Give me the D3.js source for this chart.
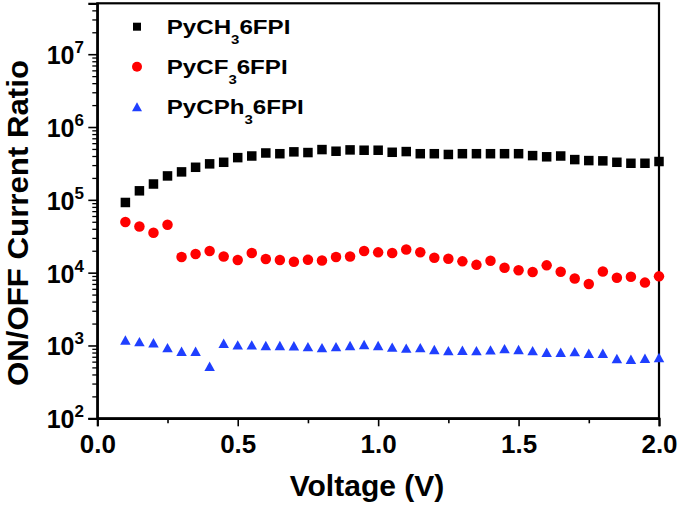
<!DOCTYPE html>
<html>
<head>
<meta charset="utf-8">
<script src="https://cdn.jsdelivr.net/npm/d3@7"></script>
<style>
  body { margin: 0; background: #fff; }
  svg { display: block; font-family: "Liberation Sans", Arial, sans-serif; font-weight: bold; }
  .axis path, .axis line { stroke: #000; }
</style>
</head>
<body>
<svg id="chart" width="681" height="509"></svg>
<script>
// voltage steps, 0.10 .. 2.00 V
const voltage = [0.10, 0.15, 0.20, 0.25, 0.30, 0.35, 0.40, 0.45, 0.50, 0.55,
                 0.60, 0.65, 0.70, 0.75, 0.80, 0.85, 0.90, 0.95, 1.00, 1.05,
                 1.10, 1.15, 1.20, 1.25, 1.30, 1.35, 1.40, 1.45, 1.50, 1.55,
                 1.60, 1.65, 1.70, 1.75, 1.80, 1.85, 1.90, 1.95, 2.00];

const pyCH3 = [9.2e4, 1.33e5, 1.65e5, 2.13e5, 2.42e5, 2.8e5, 3.12e5, 3.28e5, 3.8e5, 4.0e5,
               4.4e5, 4.3e5, 4.56e5, 4.46e5, 4.9e5, 4.65e5, 4.85e5, 4.8e5, 4.8e5, 4.5e5,
               4.6e5, 4.3e5, 4.3e5, 4.2e5, 4.3e5, 4.3e5, 4.3e5, 4.3e5, 4.3e5, 4.05e5,
               3.9e5, 4.0e5, 3.57e5, 3.46e5, 3.43e5, 3.28e5, 3.18e5, 3.18e5, 3.36e5];

const pyCF3 = [4.97e4, 4.3e4, 3.54e4, 4.56e4, 1.64e4, 1.8e4, 1.98e4, 1.67e4, 1.49e4, 1.86e4,
               1.54e4, 1.49e4, 1.41e4, 1.5e4, 1.47e4, 1.64e4, 1.67e4, 1.98e4, 1.9e4, 1.86e4,
               2.08e4, 1.91e4, 1.6e4, 1.55e4, 1.43e4, 1.28e4, 1.46e4, 1.17e4, 1.08e4, 1.02e4,
               1.26e4, 1.03e4, 8.3e3, 7.0e3, 1.04e4, 8.5e3, 8.8e3, 7.3e3, 8.9e3];

const pyCPh3 = [1190, 1130, 1090, 935, 835, 835, 519, 1070, 1020, 1020,
                1000, 1000, 990, 965, 935, 965, 1000, 1030, 1000, 950,
                920, 935, 880, 850, 860, 850, 870, 905, 880, 850,
                808, 808, 824, 783, 783, 661, 647, 668, 682];

const seriesNames = ["PyCH", "PyCF", "PyCPh"];
const xTicks = [0, 0.5, 1.0, 1.5, 2.0];
const xMinorTicks = [0.25, 0.75, 1.25, 1.75];
const yDecades = [1e2, 1e3, 1e4, 1e5, 1e6, 1e7];

const svg = d3.select('#chart');

// plot box
const box = { left: 97.3, right: 659, top: 3.3, bottom: 418.3 };

const x = d3.scaleLinear().domain([0, 2]).range([box.left, box.right]);
const y = d3.scaleLog().domain([1e2, 5e7]).range([box.bottom, box.top]);

// frame
svg.append('rect')
    .attr('x', box.left).attr('y', box.top)
    .attr('width', box.right - box.left).attr('height', box.bottom - box.top)
    .attr('fill', 'none').attr('stroke', '#000').attr('stroke-width', 2.2);

// x axis, major + minor ticks
const gx = svg.append('g').attr('class', 'axis')
    .attr('transform', `translate(0,${box.bottom})`)
    .call(d3.axisBottom(x).tickValues(xTicks).tickSize(8).tickPadding(8)
        .tickFormat(d3.format('.1f')));
gx.select('.domain').attr('stroke-width', 2.2);
gx.selectAll('line').attr('stroke-width', 1.6);
gx.selectAll('text').attr('font-size', 26).attr('fill', '#000');

const gxm = svg.append('g').attr('class', 'axis')
    .attr('transform', `translate(0,${box.bottom})`)
    .call(d3.axisBottom(x).tickValues(xMinorTicks).tickSize(5).tickFormat(''));
gxm.select('.domain').remove();
gxm.selectAll('line').attr('stroke-width', 1.6);

// y axis, decades + log minor ticks
const gy = svg.append('g').attr('class', 'axis')
    .attr('transform', `translate(${box.left},0)`)
    .call(d3.axisLeft(y).tickValues(yDecades).tickSize(9).tickFormat(''));
gy.select('.domain').attr('stroke-width', 2.2);
gy.selectAll('line').attr('stroke-width', 1.6);

const minor = [];
yDecades.forEach((d) => {
    for (let k = 2; k <= 9; k++) {
        if (d * k <= 5e7) minor.push(d * k);
    }
});
const gym = svg.append('g').attr('class', 'axis')
    .attr('transform', `translate(${box.left},0)`)
    .call(d3.axisLeft(y).tickValues(minor).tickSize(5).tickFormat(''));
gym.select('.domain').remove();
gym.selectAll('line').attr('stroke-width', 1.3);

// 10^n labels
const ylab = svg.append('g').selectAll('text').data(yDecades).join('text')
    .attr('x', 84)
    .attr('y', (d) => y(d) + 10)
    .attr('text-anchor', 'end')
    .attr('fill', '#000');
ylab.append('tspan').attr('font-size', 25).text('10');
ylab.append('tspan').attr('font-size', 17).attr('dy', -11)
    .text((d) => Math.round(Math.log10(d)));

// axis titles
svg.append('text')
    .attr('x', 367).attr('y', 496)
    .attr('text-anchor', 'middle')
    .attr('font-size', 30)
    .text('Voltage (V)');

svg.append('text')
    .attr('transform', 'translate(28,223) rotate(-90)')
    .attr('text-anchor', 'middle')
    .attr('font-size', 30)
    .attr('textLength', 326)
    .attr('lengthAdjust', 'spacingAndGlyphs')
    .text('ON/OFF Current Ratio');

// markers
function trianglePath(s) {
    const h = s * 0.9;
    return `M0,${-h / 2}L${s / 2},${h / 2}L${-s / 2},${h / 2}Z`;
}

const series = [
    { name: seriesNames[0], values: pyCH3, color: '#000000', shape: 'square' },
    { name: seriesNames[1], values: pyCF3, color: '#ff0000', shape: 'circle' },
    { name: seriesNames[2], values: pyCPh3, color: '#1f3fff', shape: 'triangle' }
];

function drawMarker(sel, shape, color, size) {
    if (shape === 'square') {
        sel.append('rect')
            .attr('x', -size / 2).attr('y', -size / 2)
            .attr('width', size).attr('height', size)
            .attr('fill', color);
    } else if (shape === 'circle') {
        sel.append('circle').attr('r', size / 2).attr('fill', color);
    } else {
        sel.append('path').attr('d', trianglePath(size)).attr('fill', color);
    }
}

series.forEach((s) => {
    const pts = svg.append('g').selectAll('g')
        .data(voltage.map((v, i) => ({ v, r: s.values[i] })))
        .join('g')
        .attr('transform', (d) => `translate(${x(d.v)},${y(d.r)})`);
    const size = s.shape === 'square' ? 9.5 : 10.5;
    pts.each(function () { drawMarker(d3.select(this), s.shape, s.color, size); });
});

// legend
const legend = svg.append('g');
series.forEach((s, i) => {
    const ly = 26.7 + i * 40;
    const m = legend.append('g').attr('transform', `translate(137,${ly})`);
    drawMarker(m, s.shape, s.color, s.shape === 'square' ? 8 : 10);

    const t = legend.append('text')
        .attr('transform', `translate(166.7,${ly + 7}) scale(1.15,1)`)
        .attr('font-size', 21)
        .attr('fill', '#000');
    t.append('tspan').text(s.name);
    t.append('tspan').attr('font-size', 13).attr('dy', 10).text('3');
    t.append('tspan').attr('dy', -10).text('6FPI');
});
</script>
</body>
</html>
